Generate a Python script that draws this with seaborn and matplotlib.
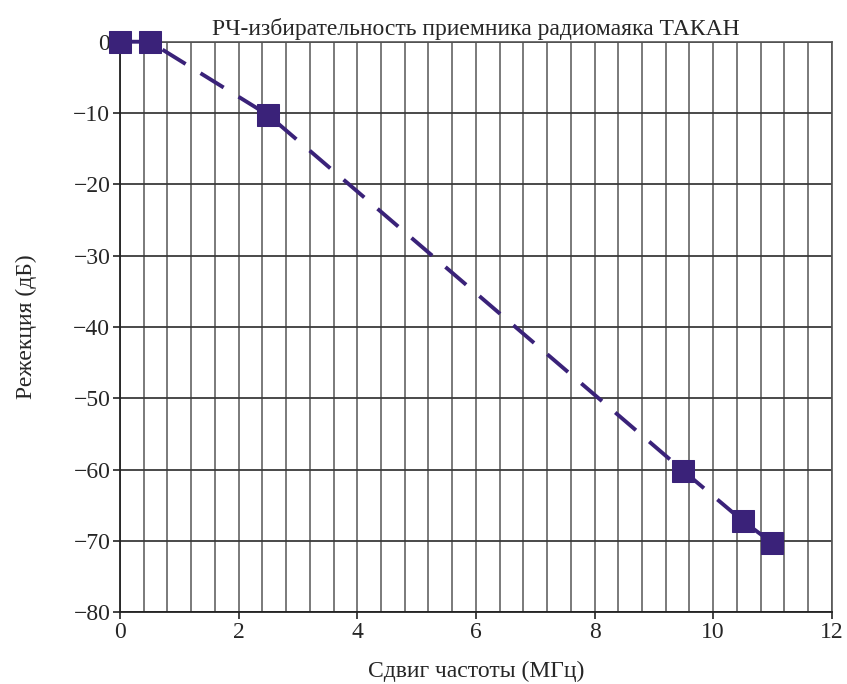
import pandas as pd
import matplotlib.pyplot as plt
import seaborn as sns
from matplotlib.ticker import MultipleLocator

# Data
freq_shift = [0, 0.5, 2.5, 9.5, 10.5, 11]
rejection = [0, 0, -10.3, -60.2, -67.2, -70.3]

df = pd.DataFrame({'shift': freq_shift, 'rej': rejection})

sns.set_style('white')
plt.rcParams['font.family'] = ['Liberation Serif', 'DejaVu Serif']

color = '#3a2279'

fig = plt.figure(figsize=(8.47, 6.84), dpi=100)
ax = fig.add_axes([0.1417, 0.105, 0.8403, 0.834])

sns.lineplot(data=df, x='shift', y='rej', ax=ax, color=color, linewidth=2.8,
             linestyle=(0, (7, 4.5)), marker='s', markersize=15.5,
             markeredgecolor=color, markerfacecolor=color, clip_on=False, zorder=5)

ax.set_xlim(0, 12)
ax.set_ylim(-80, 0)
ax.xaxis.set_major_locator(MultipleLocator(2))
ax.xaxis.set_minor_locator(MultipleLocator(0.4))
ax.yaxis.set_major_locator(MultipleLocator(10))

ax.grid(which='both', axis='x', color='#707070', linewidth=1.3)
ax.grid(which='major', axis='y', color='#3a3a3a', linewidth=1.3)
ax.set_axisbelow(True)

for side in ['left', 'bottom']:
    ax.spines[side].set_color('#222222')
    ax.spines[side].set_linewidth(1.3)
for side in ['top', 'right']:
    ax.spines[side].set_color('#555555')
    ax.spines[side].set_linewidth(1.2)

ax.tick_params(axis='both', which='major', direction='out', length=5, width=1.2,
               color='#222222', labelsize=17, pad=2, bottom=True, left=True)
ax.tick_params(axis='x', which='minor', length=0)
ax.set_yticks(range(-80, 1, 10))
ax.set_yticklabels(['\u2212' + str(abs(v)) if v < 0 else str(v) for v in range(-80, 1, 10)])

ax.set_title('РЧ-избирательность приемника радиомаяка ТАКАН', fontsize=17, pad=5)
ax.set_xlabel('Сдвиг частоты (МГц)', fontsize=17, labelpad=13)
ax.set_ylabel('Режекция (дБ)', fontsize=17, labelpad=26)

plt.savefig('out.png', dpi=100)
